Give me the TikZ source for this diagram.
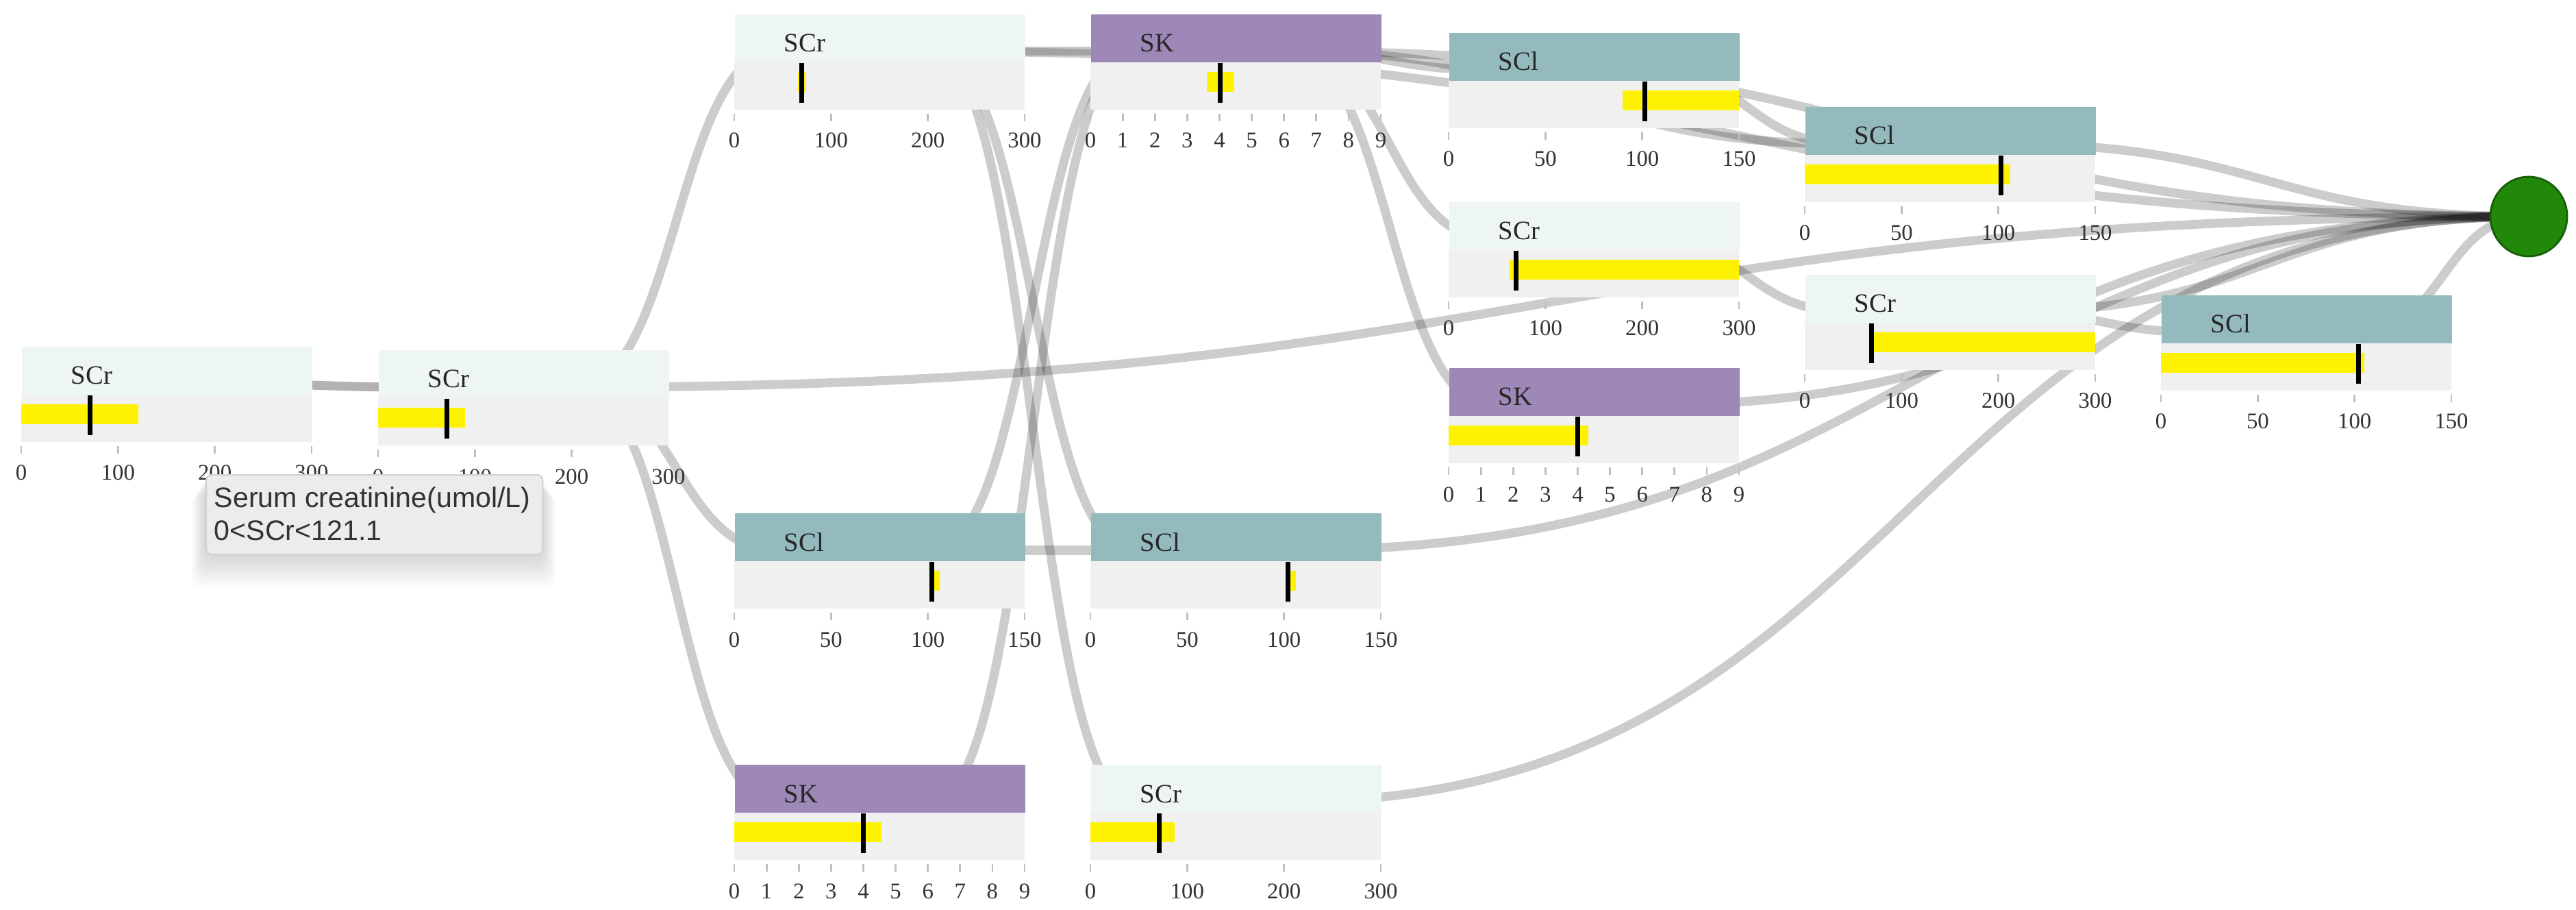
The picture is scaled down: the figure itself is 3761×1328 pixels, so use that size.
\documentclass[tikz,border=0pt]{standalone}
\usepackage{fontspec}
\setmainfont{Liberation Serif}
\newfontfamily\tipfont{Liberation Sans}
\usepackage{tikz}
\usetikzlibrary{calc}
\usetikzlibrary{shapes.geometric}

\definecolor{scrhead}{RGB}{238,245,245}
\definecolor{sclhead}{RGB}{148,186,189}
\definecolor{skhead}{RGB}{158,136,184}
\definecolor{barbg}{RGB}{240,240,240}
\definecolor{endgreen}{RGB}{34,136,10}
\definecolor{tipbg}{RGB}{236,236,236}

\pgfdeclarelayer{bg}
\pgfdeclarelayer{links}
\pgfsetlayers{bg,links,main}

\tikzset{
  head/.style={inner sep=0pt, minimum width=4.24cm, minimum height=0.7cm, anchor=north west},
  scr/.style={head, fill=scrhead},
  scl/.style={head, fill=sclhead},
  sk/.style={head, fill=skhead},
  headlabel/.style={anchor=base west, inner sep=0pt, text=black!85, font=\fontsize{11}{11}\selectfont},
  ticklabel/.style={anchor=base, inner sep=0pt, text=black!80, font=\fontsize{9.3}{9.3}\selectfont},
  tickmark/.style={draw=black!25, line width=0.8pt},
  marker/.style={draw=black, line width=2pt},
  endnode/.style={ellipse, fill=endgreen, draw=endgreen!70!black, line width=0.8pt,
    minimum width=1.12cm, minimum height=1.16cm, inner sep=0pt},
  link/.style={draw=black, draw opacity=0.2, line width=3.7pt,
    to path={let \p1=(\tikztostart), \p2=(\tikztotarget) in
      .. controls ({(\x1+\x2)/2},\y1) and ({(\x1+\x2)/2},\y2) .. (\tikztotarget)}},
  tipbox/.style={anchor=north west, fill=tipbg, draw=black!18, line width=0.6pt,
    rounded corners=0.08cm, minimum width=4.91cm, minimum height=1.16cm, inner sep=0pt},
  tiptext/.style={anchor=base west, inner sep=0pt, text=black!80, font=\tipfont\fontsize{11.7}{11.7}\selectfont},
}

% card: name, left, top, style, label, axis max, bar from, bar to, value
\newcommand{\statcard}[9]{
  \pgfmathtruncatemacro{\tstep}{#6>10 ? #6/3 : 1}
  \fill[barbg] (#2,#3+70) rectangle ++(424,70);
  \node[#4] (#1) at (#2,#3) {};
  \node[headlabel] (#1-l) at (#2+72,#3+56) {#5};
  \fill[yellow] ({#2+#7/#6*424},#3+85) rectangle ({#2+#8/#6*424},#3+114);
  \draw[marker] ({#2+#9/#6*424},#3+72) -- ++(0,58);
  \foreach \tk in {0,\tstep,...,#6} {
    \draw[tickmark] ({#2+\tk/#6*424},#3+146) -- ++(0,11);
    \node[ticklabel] (#1-\tk) at ({#2+\tk/#6*424},#3+196) {\tk};
  }
  \coordinate (#1-o) at (#2+289,#3+55);
  \coordinate (#1-i) at (#2+63,#3+55);
}

\begin{document}
\begin{tikzpicture}[x=0.01cm, y=-0.01cm]
  \begin{pgfonlayer}{bg}
    \fill[white] (0,0) rectangle (3761,1328);
  \end{pgfonlayer}
  \useasboundingbox (0,0) rectangle (3761,1328);

  \statcard{scr1}{31}{505}{scr}{SCr}{300}{0}{121.1}{71}
  \statcard{scr2}{552}{510}{scr}{SCr}{300}{0}{90}{71}
  \statcard{scr3}{1072}{20}{scr}{SCr}{300}{66}{74}{70}
  \statcard{scl1}{1072}{748}{scl}{SCl}{150}{101.5}{106}{102}
  \statcard{sk1}{1072}{1115}{sk}{SK}{9}{0}{4.56}{4}
  \statcard{sk2}{1592}{20}{sk}{SK}{9}{3.6}{4.45}{4.03}
  \statcard{scl2}{1592}{748}{scl}{SCl}{150}{101.5}{106}{102}
  \statcard{scr4}{1592}{1115}{scr}{SCr}{300}{0}{87}{71}
  \statcard{scl3}{2115}{47}{scl}{SCl}{150}{90}{150}{101.5}
  \statcard{scr5}{2115}{294}{scr}{SCr}{300}{63}{300}{69.5}
  \statcard{sk3}{2115}{536}{sk}{SK}{9}{0}{4.33}{4}
  \statcard{scl4}{2635}{155}{scl}{SCl}{150}{0}{106}{101.5}
  \statcard{scr6}{2635}{400}{scr}{SCr}{300}{69}{300}{69}
  \statcard{scl5}{3155}{430}{scl}{SCl}{150}{0}{105}{102}
  \node[endnode] (end) at (3692,316) {};

  \begin{pgfonlayer}{links}
    \draw[link, draw opacity=0.3] (scr1-o) to (scr2-i);
    \draw[link] (scr2-o) to (scr3-i);
    \draw[link] (scr2-o) to (scl1-i);
    \draw[link] (scr2-o) to (sk1-i);
    \draw[link] (scr2-o) to (end.center);
    \draw[link] (scr3-o) to (sk2-i);
    \draw[link] (scr3-o) to (scl2-i);
    \draw[link] (scr3-o) to (scr4-i);
    \draw[link] (scr3-o) to (end.center);
    \draw[link] (scl1-o) to (sk2-i);
    \draw[link] (scl1-o) to (scl2-i);
    \draw[link] (sk1-o) to (sk2-i);
    \draw[link] (sk2-o) to (scl3-i);
    \draw[link] (sk2-o) to (scr5-i);
    \draw[link] (sk2-o) to (sk3-i);
    \draw[link] (sk2-o) to (scl4-i);
    \draw[link] (sk2-o) to (end.center);
    \draw[link] (scl3-o) to (scl4-i);
    \draw[link] (scr5-o) to (scr6-i);
    \draw[link] (sk3-o) to (end.center);
    \draw[link] (scl2-o) to (end.center);
    \draw[link] (scr4-o) to (end.center);
    \draw[link] (scl4-o) to (end.center);
    \draw[link] (scr6-o) to (end.center);
    \draw[link] (scr6-o) to (scl5-i);
    \draw[link] (scl5-o) to (end.center);
  \end{pgfonlayer}

  % tooltip
  \foreach \s in {1,...,10}
    \fill[black, opacity=0.015, rounded corners=0.15cm] (300-\s*2,692+\s*3) rectangle (791+\s*2,808+\s*5);
  \node[tipbox] (tip) at (300,692) {};
  \node[tiptext] (tip1) at (312,740) {Serum creatinine(umol/L)};
  \node[tiptext] (tip2) at (312,788) {0<SCr<121.1};
\end{tikzpicture}
\end{document}
